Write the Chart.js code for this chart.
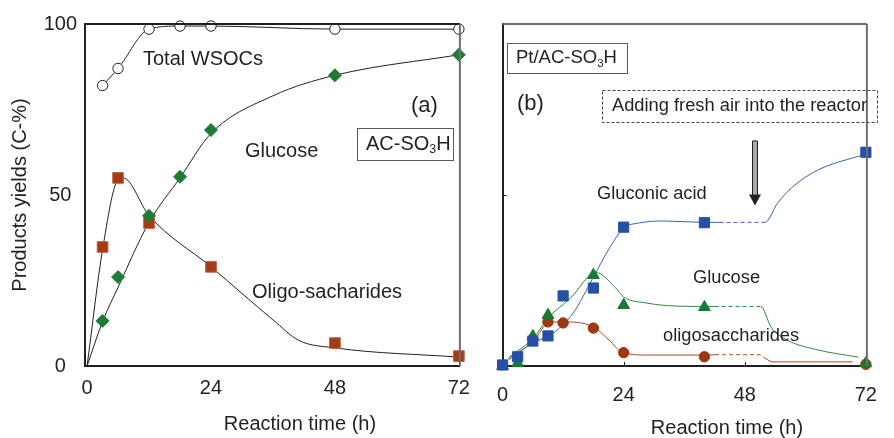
<!DOCTYPE html>
<html>
<head>
<meta charset="utf-8">
<script src="https://cdn.jsdelivr.net/npm/chart.js@4.4.1/dist/chart.umd.min.js"></script>
<style>
  body { margin: 0; background: #fff; }
  #wrap { position: relative; width: 894px; height: 438px; }
  .panel { position: absolute; top: 0; height: 438px; }
</style>
</head>
<body>
<div id="wrap">
  <div class="panel" style="left:0;width:480px"><canvas id="panelA"></canvas></div>
  <div class="panel" style="left:480px;width:414px"><canvas id="panelB"></canvas></div>
</div>
<script>
const xTicks = [0, 24, 48, 72];
const yTicksA = [0, 50, 100];
const yTicksB = [50];

// (a) AC-SO3H - measured points
const timeA = [3, 6, 12, 18, 24, 48, 72];
const wsocA = [82, 87, 98.5, 99.4, 99.4, 98.5, 98.5];
const glucoseA = [13.2, 26, 43.9, 55.3, 69, 85, 91];
const oligoTimeA = [3, 6, 12, 24, 48, 72];
const oligoA = [34.8, 55, 41.8, 29, 6.7, 2.9];
// (a) guide curves as drawn in the figure
const glucoseCurveTimeA = [0, 3, 6, 12, 18, 24, 36, 48, 72];
const glucoseCurveA = [0, 13, 23, 42, 55, 68, 79, 85, 91];
const oligoCurveTimeA = [0, 3, 6, 7, 12, 24, 36, 41, 48, 72];
const oligoCurveA = [0, 34, 54.5, 55, 44, 29, 13.5, 7.5, 5.3, 2.6];

// (b) Pt/AC-SO3H - measured points
const gluconicTimeB = [0, 3, 6, 9, 12, 18, 24, 40, 72];
const gluconicB = [0.3, 2.7, 7.3, 8.8, 20.5, 22.8, 40.6, 41.9, 62.5];
const glucoseTimeB = [0, 3, 6, 9, 18, 24, 40, 72];
const glucoseB = [0, 0.8, 8.7, 14.9, 26.6, 17.8, 17.2, 0.8];
const oligoTimeB = [9, 12, 18, 24, 40, 72];
const oligoB = [12.9, 12.6, 11.1, 3.9, 2.7, 0.5];
// (b) guide curves, dashed while the reactor was paused
const gluconicCurveTimeB = [1, 6, 10, 14, 18, 21, 24, 27, 32, 40, 43, 52, 54.5, 57.5, 62.5, 72];
const gluconicCurveB = [2, 6.7, 9.6, 15.5, 26, 34, 40.3, 41.8, 42.4, 42, 42, 42, 47.6, 52.4, 57.3, 62];
const glucoseCurveTimeB = [1.3, 6.3, 9, 13.7, 18, 18.6, 22.3, 24, 28.6, 34.7, 42, 51.2, 53.2, 56.4, 62.5, 70.5];
const glucoseCurveB = [2.6, 8.5, 14, 20.2, 27.2, 27.3, 23, 20.2, 18.4, 17.5, 17.4, 17.4, 11.4, 7.6, 4.7, 2.6];
const oligoCurveTimeB = [1.3, 6.3, 9.1, 12, 18, 21.1, 23.6, 28.6, 40.8, 42.1, 51, 52, 53.6, 69.4];
const oligoCurveB = [1.8, 7.6, 12.6, 12.9, 11.4, 7.6, 4.1, 3.2, 3.2, 3.3, 3.3, 2.3, 1.2, 1.2];
const pauseB = [42, 52];
const airTimeB = 50;

const ink = '#231f20';
const fontStack = '"Liberation Sans", Arial, sans-serif';
Chart.defaults.font.family = fontStack;
Chart.defaults.color = ink;

const pts = (xs, ys) => xs.map((x, i) => ({ x, y: ys[i] }));
const font = (size) => size + 'px ' + fontStack;

function text(ctx, str, x, y, size, align) {
  ctx.font = font(size);
  ctx.fillStyle = ink;
  ctx.textAlign = align || 'left';
  ctx.textBaseline = 'middle';
  ctx.fillText(str, x, y);
}

// formula with subscript, e.g. SO3
function chem(ctx, parts, x, y, size) {
  ctx.fillStyle = ink;
  ctx.textAlign = 'left';
  ctx.textBaseline = 'middle';
  let cx = x;
  parts.forEach(([t, sub]) => {
    ctx.font = font(sub ? size * 0.62 : size);
    ctx.fillText(t, cx, sub ? y + size * 0.3 : y);
    cx += ctx.measureText(t).width;
  });
}

function frame(ctx, a, topColor) {
  ctx.lineWidth = 2;
  ctx.strokeStyle = topColor;
  ctx.beginPath();
  ctx.moveTo(a.left, a.top);
  ctx.lineTo(a.right, a.top);
  ctx.stroke();
  ctx.strokeStyle = '#6d6e71';
  ctx.beginPath();
  ctx.moveTo(a.right, a.top);
  ctx.lineTo(a.right, a.bottom);
  ctx.stroke();
}

function xScale(pad, min, max) {
  return {
    type: 'linear', min, max,
    afterBuildTicks: (s) => { s.ticks = xTicks.map((v) => ({ value: v })); },
    afterFit: (s) => { s.height = 72; },
    grid: { display: false, drawTicks: false },
    border: { display: true, color: ink, width: 2 },
    ticks: { color: ink, font: { size: 20 }, padding: pad },
  };
}

const baseOptions = {
  responsive: true,
  maintainAspectRatio: false,
  animation: false,
  events: [],
  plugins: { legend: { display: false }, tooltip: { enabled: false } },
};

const decorA = {
  id: 'decorA',
  afterDraw(chart) {
    const { ctx, chartArea } = chart;
    ctx.save();
    frame(ctx, chartArea, ink);
    text(ctx, 'Total WSOCs', 143, 59, 20);
    text(ctx, '(a)', 411, 106, 22);
    text(ctx, 'Glucose', 245, 151, 20);
    text(ctx, 'Oligo-sacharides', 252, 292, 20);
    ctx.lineWidth = 1;
    ctx.strokeStyle = '#58595b';
    ctx.strokeRect(357.5, 128.5, 96, 32);
    chem(ctx, [['AC-SO', false], ['3', true], ['H', false]], 366, 144, 20);
    text(ctx, 'Reaction time (h)', 300, 424, 20, 'center');
    ctx.restore();
  },
};

const decorB = {
  id: 'decorB',
  afterDraw(chart) {
    const { ctx, chartArea } = chart;
    const sx = chart.scales.x, sy = chart.scales.y;
    ctx.save();
    frame(ctx, chartArea, '#6d6e71');
    // small inward ticks
    ctx.strokeStyle = ink;
    ctx.lineWidth = 1;
    [24, 48].forEach((v) => {
      const px = Math.round(sx.getPixelForValue(v)) + 0.5;
      ctx.beginPath();
      ctx.moveTo(px, chartArea.bottom);
      ctx.lineTo(px, chartArea.bottom - 4);
      ctx.stroke();
    });
    yTicksB.forEach((v) => {
      const py = Math.round(sy.getPixelForValue(v)) + 0.5;
      ctx.beginPath();
      ctx.moveTo(chartArea.left, py);
      ctx.lineTo(chartArea.left + 4, py);
      ctx.stroke();
    });

    ctx.strokeStyle = '#58595b';
    ctx.strokeRect(27.5, 43.5, 120, 30);
    chem(ctx, [['Pt/AC-SO', false], ['3', true], ['H', false]], 36, 58, 18.5);
    text(ctx, '(b)', 37, 104, 22);

    ctx.setLineDash([3, 2]);
    ctx.strokeStyle = '#414042';
    ctx.strokeRect(122.5, 90.5, 275, 32);
    ctx.setLineDash([]);
    text(ctx, 'Adding fresh air into the reactor', 132, 106, 18.3);

    // arrow
    const ax = Math.round(sx.getPixelForValue(airTimeB));
    const ay0 = sy.getPixelForValue(65.8);
    const ay1 = sy.getPixelForValue(46.9);
    ctx.fillStyle = '#a7a9ac';
    ctx.fillRect(ax - 2, ay0, 4, ay1 - ay0 - 10);
    ctx.strokeStyle = ink;
    ctx.lineWidth = 1;
    ctx.beginPath();
    ctx.moveTo(ax - 2.5, ay0); ctx.lineTo(ax - 2.5, ay1 - 10);
    ctx.moveTo(ax + 2.5, ay0); ctx.lineTo(ax + 2.5, ay1 - 10);
    ctx.moveTo(ax - 2.5, ay0); ctx.lineTo(ax + 2.5, ay0);
    ctx.stroke();
    ctx.fillStyle = ink;
    ctx.beginPath();
    ctx.moveTo(ax - 6, ay1 - 11);
    ctx.lineTo(ax + 6, ay1 - 11);
    ctx.lineTo(ax, ay1);
    ctx.closePath();
    ctx.fill();

    text(ctx, 'Gluconic acid', 117, 194, 18.3);
    text(ctx, 'Glucose', 213, 278, 18.3);
    text(ctx, 'oligosaccharides', 183, 336, 18.3);
    text(ctx, 'Reaction time (h)', 247, 428, 20, 'center');
    ctx.restore();
  },
};

const guide = (data, color) => ({
  data, borderColor: color, borderWidth: 1, pointRadius: 0,
  cubicInterpolationMode: 'monotone', fill: false, order: 3,
});

new Chart(document.getElementById('panelA'), {
  type: 'line',
  data: {
    datasets: [
      {
        data: pts(timeA, wsocA), showLine: true, borderColor: ink, borderWidth: 1,
        cubicInterpolationMode: 'monotone', pointStyle: 'circle', pointRadius: 5.2,
        pointBackgroundColor: '#fff', pointBorderColor: ink, pointBorderWidth: 1, clip: false, order: 0,
      },
      {
        data: pts(timeA, glucoseA), showLine: false, pointStyle: 'rectRot', pointRadius: 6.5,
        pointBackgroundColor: '#1e7b34', pointBorderColor: '#1e7b34', pointBorderWidth: 1, clip: false, order: 1,
      },
      {
        data: pts(oligoTimeA, oligoA), showLine: false, pointStyle: 'rect', pointRadius: 7.6,
        pointBackgroundColor: '#a33b13', pointBorderColor: '#c2664a', pointBorderWidth: 1, clip: false, order: 1,
      },
      guide(pts(glucoseCurveTimeA, glucoseCurveA), ink),
      guide(pts(oligoCurveTimeA, oligoCurveA), ink),
    ],
  },
  options: {
    ...baseOptions,
    layout: { padding: { top: 24, right: 12, left: 0, bottom: 0 } },
    scales: {
      x: xScale(10, -0.4, 72.2),
      y: {
        type: 'linear', min: 0, max: 100,
        afterBuildTicks: (s) => { s.ticks = yTicksA.map((v) => ({ value: v })); },
        afterFit: (s) => { s.width = 85; },
        grid: { display: false, drawTicks: false },
        border: { display: true, color: ink, width: 2 },
        ticks: { color: ink, font: { size: 20 }, padding: 8, crossAlign: 'center' },
        title: { display: true, text: 'Products yields (C-%)', color: ink, font: { size: 20 }, padding: { top: 8, bottom: 0 } },
      },
    },
  },
  plugins: [decorA],
});

const pauseDash = (ctx) =>
  ctx.p0.parsed.x >= pauseB[0] && ctx.p1.parsed.x <= pauseB[1] ? [4, 3] : undefined;

const guideB = (data, color) => ({ ...guide(data, color), segment: { borderDash: pauseDash } });

new Chart(document.getElementById('panelB'), {
  type: 'line',
  data: {
    datasets: [
      {
        data: pts(gluconicTimeB, gluconicB), showLine: false, pointStyle: 'rect', pointRadius: 7.2,
        pointBackgroundColor: '#2650a5', pointBorderColor: '#2650a5', clip: false, order: 0,
      },
      {
        data: pts(glucoseTimeB, glucoseB), showLine: false, pointStyle: 'triangle', pointRadius: 6.8,
        pointBackgroundColor: '#1b7a31', pointBorderColor: '#1b7a31', clip: false, order: 1,
      },
      {
        data: pts(oligoTimeB, oligoB), showLine: false, pointStyle: 'circle', pointRadius: 5.2,
        pointBackgroundColor: '#9c3812', pointBorderColor: '#9c3812', clip: false, order: 2,
      },
      guideB(pts(gluconicCurveTimeB, gluconicCurveB), '#3b62b5'),
      guideB(pts(glucoseCurveTimeB, glucoseCurveB), '#2c8a40'),
      guideB(pts(oligoCurveTimeB, oligoCurveB), '#b04a1c'),
    ],
  },
  options: {
    ...baseOptions,
    layout: { padding: { top: 24, right: 12, left: 0, bottom: 0 } },
    scales: {
      x: xScale(17, 0, 72.2),
      y: {
        type: 'linear', min: 0, max: 100,
        afterFit: (s) => { s.width = 13; },
        grid: { display: false, drawTicks: false },
        border: { display: true, color: ink, width: 2 },
        ticks: { display: false },
      },
    },
  },
  plugins: [decorB],
});
</script>
</body>
</html>
